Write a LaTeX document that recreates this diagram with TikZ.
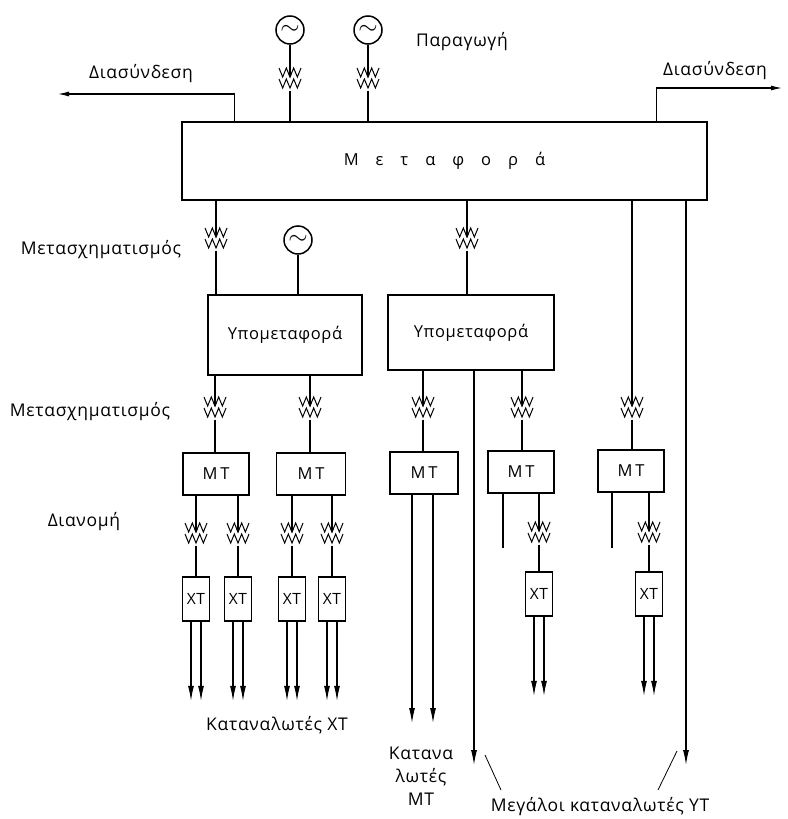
\documentclass[tikz,border=0pt]{standalone}
\usepackage{fontspec}
\setmainfont[LetterSpace=4]{Open Sans}
\usetikzlibrary{arrows.meta}

\begin{document}
\begin{tikzpicture}[x=1pt,y=-1pt,line width=1.1pt,
  box/.style={draw,line width=1.7pt,inner sep=0pt,font=\fontsize{16.5}{20}\selectfont},
  gen/.style={draw,line width=1.5pt,circle,minimum size=28pt,inner sep=0pt,font=\fontsize{24}{24}\selectfont},
  trafo/.style={minimum width=26pt,minimum height=24pt,inner sep=0pt,
    path picture={
      \foreach \dy in {2pt,13pt}
        \draw[line width=1pt] ([xshift=-11pt,yshift=-\dy]path picture bounding box.north)
          -- ++(3.67pt,-9pt) -- ++(3.67pt,9pt) -- ++(3.67pt,-9pt)
          -- ++(3.67pt,9pt) -- ++(3.67pt,-9pt) -- ++(3.67pt,9pt);
    }},
  tip/.style={-{Stealth[length=5pt,width=4pt]}},
  feed/.style={-{Latex[length=15pt,width=6pt]}},
  lbl/.style={font=\fontsize{17.5}{23}\selectfont}]
\useasboundingbox (0,0) rectangle (787,819);

% paragogi
\node[gen] (g1) at (290,30) {$\sim$};
\node[gen] (g2) at (368,30) {$\sim$};
\node[trafo] (t1) at (290,78) {};
\node[trafo] (t2) at (368,78) {};
\node[lbl] (prod) at (462,42) {Παραγωγή};

% metafora
\node[box,minimum width=525pt,minimum height=78pt] (M) at (444.5,161)
  {Μ\hspace{17pt}ε\hspace{17pt}τ\hspace{17pt}α\hspace{17pt}φ\hspace{17pt}ο\hspace{17pt}ρ\hspace{17pt}ά};
\draw[tip] (g1) -- (t1.center);
\draw[tip] (g2) -- (t2.center);
\draw (t1.south) -- (t1.south |- M.north);
\draw (t2.south) -- (t2.south |- M.north);

% diasyndesi
\coordinate (il) at (58,94);
\coordinate (ir) at (782,88);
\node[lbl] (dl) at (141,74) {Διασύνδεση};
\node[lbl] (dr) at (715,71) {Διασύνδεση};
\draw[-{Latex[length=11pt,width=5pt]}] ([xshift=53pt]M.north west) |- (il);
\draw[-{Latex[length=11pt,width=5pt]}] ([xshift=-51pt]M.north east) |- (ir);

% ypometafora
\node[trafo] (t3) at (216,238) {};
\node[gen] (g3) at (298,240) {$\sim$};
\node[trafo] (t4) at (467,238) {};
\node[box,minimum width=154pt,minimum height=80pt] (S1) at (285,335) {Υπομεταφορά};
\node[box,minimum width=166pt,minimum height=75pt] (S2) at (471,332.5) {Υπομεταφορά};
\node[lbl] (tr1) at (101,250) {Μετασχηματισμός};
\draw[tip] (M.south -| t3) -- (t3.center);
\draw (t3.south) -- (S1.north -| t3);
\draw (g3.south) -- (S1.north -| g3);
\draw[tip] (M.south -| t4) -- (t4.center);
\draw (t4.south) -- (S2.north -| t4);

% MT
\node[lbl] (tr2) at (90,412) {Μετασχηματισμός};
\node[trafo] (t5) at (215,407) {};
\node[trafo] (t6) at (310,407) {};
\node[trafo] (t7) at (423,407) {};
\node[trafo] (t8) at (522,407) {};
\node[trafo] (t9) at (632,407) {};
\node[box,minimum width=66pt,minimum height=42pt] (m1) at (216,474) {Μ\,Τ};
\node[box,minimum width=69pt,minimum height=42pt] (m2) at (311,474) {Μ\,Τ};
\node[box,minimum width=68pt,minimum height=42pt] (m3) at (424,473) {Μ\,Τ};
\node[box,minimum width=66pt,minimum height=42pt] (m4) at (521,472) {Μ\,Τ};
\node[box,minimum width=66pt,minimum height=42pt] (m5) at (631,471) {Μ\,Τ};
\foreach \t/\s in {t5/S1,t6/S1,t7/S2,t8/S2,t9/M}
  \draw[tip] (\s.south -| \t) -- (\t.center);
\foreach \t/\m in {t5/m1,t6/m2,t7/m3,t8/m4,t9/m5}
  \draw (\t.south) -- (\m.north -| \t);

% YT
\coordinate (yt1) at (474,765);
\coordinate (yt2) at (686,765);
\draw[feed] (S2.south -| yt1) -- (yt1);
\draw[feed] (M.south -| yt2) -- (yt2);

% dianomi
\node[lbl] (dist) at (84,522) {Διανομή};
\node[trafo] (t10) at (196,533) {};
\node[trafo] (t11) at (238,533) {};
\node[trafo] (t12) at (292,533) {};
\node[trafo] (t13) at (332,533) {};
\node[trafo] (t14) at (539,532) {};
\node[trafo] (t15) at (649,532) {};
\foreach \t/\m in {t10/m1,t11/m1,t12/m2,t13/m2,t14/m4,t15/m5}
  \draw[tip] (\m.south -| \t) -- (\t.center);
\coordinate (s1) at (503,548);
\coordinate (s2) at (612,548);
\draw (m4.south -| s1) -- (s1);
\draw (m5.south -| s2) -- (s2);

% XT
\foreach \n/\t/\y in {x1/t10/599,x2/t11/599,x3/t12/599,x4/t13/599,x5/t14/594,x6/t15/594}{
  \node[box,minimum width=27pt,minimum height=44pt,font=\fontsize{15.5}{18}\selectfont]
    (\n) at (\t |- 0,\y) {ΧΤ};
  \draw (\t.south) -- (\n.north);
  \draw[feed] ([xshift=-5pt]\n.south) -- ++(0,79);
  \draw[feed] ([xshift=5pt]\n.south) -- ++(0,79);
}

% katanalotes
\coordinate (mv1) at (412,723);
\coordinate (mv2) at (433,723);
\draw[feed] (m3.south -| mv1) -- (mv1);
\draw[feed] (m3.south -| mv2) -- (mv2);
\node[lbl] (cxt) at (277,725) {Καταναλωτές ΧΤ};
\node[lbl,align=center] (cmt) at (421,776) {Κατανα\\λωτές\\ΜΤ};
\node[lbl] (cyt) at (600,807) {Μεγάλοι καταναλωτές ΥΤ};
\coordinate (c1) at (485,755);
\coordinate (c2) at (677,751);
\draw[line width=0.8pt] (c1) -- ++(16,35);
\draw[line width=0.8pt] (c2) -- ++(-19,39);
\end{tikzpicture}
\end{document}
